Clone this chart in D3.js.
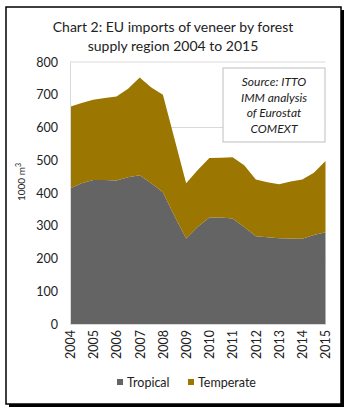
<!DOCTYPE html>
<html>
<head>
<meta charset="utf-8">
<script src="https://cdn.jsdelivr.net/npm/d3@7"></script>
<style>
  body { margin: 0; background: #fff; }
  svg text { font-family: Lato, "Liberation Sans", sans-serif; fill: #222; }
</style>
</head>
<body>
<div id="chart"></div>
<script>
// half-year periods, 2004 .. 2015
const periods = d3.range(0, 23).map(i => 2004 + i / 2);
const tropical = [414, 430, 440, 440, 438, 448, 454, 430, 402, 330, 261, 297, 325, 325, 322, 296, 268, 265, 262, 261, 260, 272, 280];
const totals = [663, 675, 685, 690, 695, 718, 753, 722, 700, 565, 430, 470, 507, 508, 509, 485, 441, 433, 427, 435, 441, 462, 498];
const temperate = totals.map((t, i) => t - tropical[i]);
const yearTicks = d3.range(2004, 2016);
const yTicks = [0, 100, 200, 300, 400, 500, 600, 700, 800];
const gridTicks = [200, 400, 600, 800];
const seriesNames = ["Tropical", "Temperate"];
const colors = { Tropical: "#646464", Temperate: "#9b7600" };
const sourceLines = ["Source: ITTO", "IMM analysis", "of Eurostat", "COMEXT"];

const W = 350, H = 415;
const svg = d3.select("#chart").append("svg").attr("width", W).attr("height", H);

// frame with shadow
svg.append("rect").attr("x", 9).attr("y", 10).attr("width", 335).attr("height", 397).attr("fill", "#000");
svg.append("rect").attr("x", 6).attr("y", 7).attr("width", 335).attr("height", 397)
  .attr("fill", "#fff").attr("stroke", "#000").attr("stroke-width", 1.5);

// title
svg.append("text").attr("x", 173).attr("y", 32).attr("text-anchor", "middle")
  .style("font-size", "14px").text("Chart 2: EU imports of veneer by forest");
svg.append("text").attr("x", 173).attr("y", 51).attr("text-anchor", "middle")
  .style("font-size", "14px").text("supply region 2004 to 2015");

const x = d3.scaleLinear().domain([2004, 2015]).range([70, 325.5]);
const y = d3.scaleLinear().domain([0, 800]).range([324, 62]);

// gridlines
svg.append("g").selectAll("line").data(gridTicks).enter().append("line")
  .attr("x1", x(2004)).attr("x2", x(2015))
  .attr("y1", d => y(d)).attr("y2", d => y(d))
  .attr("stroke", "#d9d9d9").attr("stroke-width", 1);

// stacked areas
const rows = periods.map((p, i) => ({ period: p, Tropical: tropical[i], Temperate: temperate[i] }));
const stacked = d3.stack().keys(seriesNames)(rows);
const area = d3.area()
  .x(d => x(d.data.period))
  .y0(d => y(d[0]))
  .y1(d => y(d[1]));

svg.append("g").selectAll("path").data(stacked).enter().append("path")
  .attr("d", area)
  .attr("fill", d => colors[d.key]);

// y axis
const yAxis = svg.append("g").attr("transform", `translate(${x(2004)},0)`)
  .call(d3.axisLeft(y).tickValues(yTicks).tickSize(0).tickPadding(12));
yAxis.select(".domain").attr("stroke", "#d9d9d9");
yAxis.selectAll("text").style("font-size", "12.5px").style("font-family", "Lato, sans-serif").attr("fill", "#222");

svg.append("text")
  .attr("transform", `translate(25,182) rotate(-90)`)
  .attr("text-anchor", "middle")
  .style("font-size", "10px")
  .html("1000 m<tspan dy='-4' font-size='7px'>3</tspan>");

// x axis
const xAxis = svg.append("g").attr("transform", `translate(0,${y(0)})`)
  .call(d3.axisBottom(x).tickValues(yearTicks).tickFormat(d3.format("d")).tickSize(0));
xAxis.select(".domain").attr("stroke", "#d9d9d9");
xAxis.selectAll("text")
  .style("font-size", "12.5px").style("font-family", "Lato, sans-serif").attr("fill", "#222")
  .attr("text-anchor", "end")
  .attr("transform", "rotate(-90)")
  .attr("x", -6).attr("y", 0).attr("dy", "0.35em");

// source box
const box = svg.append("g");
box.append("rect").attr("x", 223).attr("y", 68).attr("width", 102).attr("height", 74)
  .attr("fill", "#fff").attr("stroke", "#bfbfbf").attr("stroke-width", 1);
box.selectAll("text").data(sourceLines).enter().append("text")
  .attr("x", 274).attr("y", (d, i) => 86 + i * 15.5)
  .attr("text-anchor", "middle")
  .style("font-size", "12px").style("font-style", "italic")
  .text(d => d);

// legend
const legendPos = [{ sx: 117, tx: 127 }, { sx: 188, tx: 198 }];
const legend = svg.append("g");
seriesNames.forEach((name, i) => {
  legend.append("rect").attr("x", legendPos[i].sx).attr("y", 379).attr("width", 6).attr("height", 6)
    .attr("fill", colors[name]);
  legend.append("text").attr("x", legendPos[i].tx).attr("y", 387)
    .style("font-size", "12.5px").text(name);
});
</script>
</body>
</html>
